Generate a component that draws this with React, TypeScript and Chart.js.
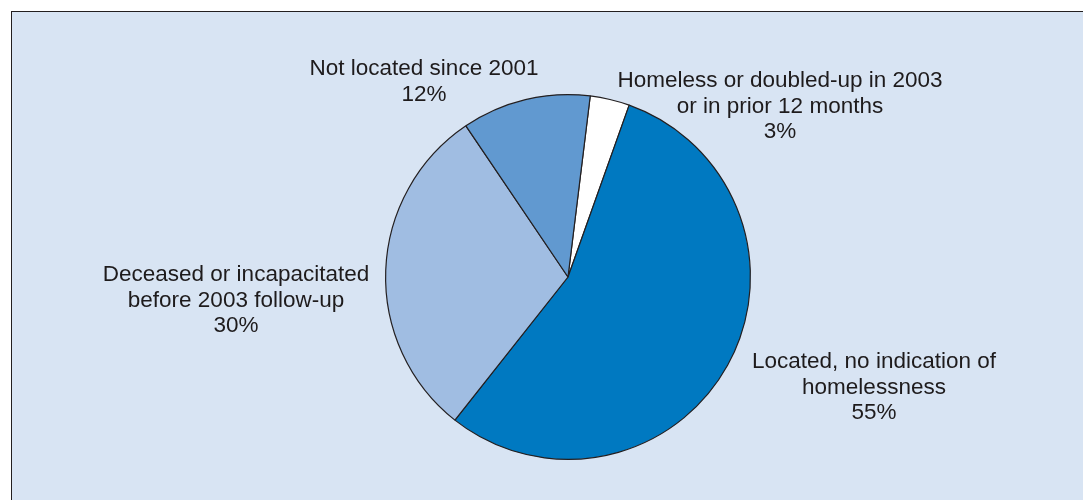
import React, { useEffect, useRef } from "react";
import { Chart, registerables } from "chart.js";

Chart.register(...registerables);

const categories = [
  "Homeless or doubled-up in 2003 or in prior 12 months",
  "Located, no indication of homelessness",
  "Deceased or incapacitated before 2003 follow-up",
  "Not located since 2001",
];
const values = [3.5, 55.2, 29.9, 11.4];
const percentLabels = ["3%", "55%", "30%", "12%"];
const labelLines = [
  ["Homeless or doubled-up in 2003", "or in prior 12 months"],
  ["Located, no indication of", "homelessness"],
  ["Deceased or incapacitated", "before 2003 follow-up"],
  ["Not located since 2001"],
];
const colors = ["#ffffff", "#0079c1", "#a0bde2", "#6199d0"];
// label anchor offsets from pie centre (x centre, first baseline)
const labelOffsets = [
  [212, -190],
  [306, 91],
  [-332, 4],
  [-144, -202],
];

const labelPlugin = {
  id: "sliceLabels",
  afterDraw(chart: any) {
    const meta = chart.getDatasetMeta(0);
    const arc = meta.data[0];
    if (!arc) return;
    const cx = arc.x;
    const cy = arc.y;
    const ctx = chart.ctx;
    ctx.save();
    ctx.font = '22.5px "Liberation Sans", Arial, sans-serif';
    ctx.fillStyle = "#1e1b1c";
    ctx.textAlign = "center";
    ctx.textBaseline = "alphabetic";
    const lh = 25.5;
    labelLines.forEach((lines, i) => {
      const [ox, oy] = labelOffsets[i];
      const all = [...lines, percentLabels[i]];
      all.forEach((t, j) => {
        ctx.fillText(t, cx + ox, cy + oy + j * lh);
      });
    });
    ctx.restore();
  },
};

export default function App() {
  const ref = useRef<HTMLCanvasElement>(null);
  useEffect(() => {
    if (!ref.current) return;
    const chart = new Chart(ref.current, {
      type: "pie",
      data: {
        labels: categories,
        datasets: [
          {
            data: values,
            backgroundColor: colors,
            borderColor: "#231f20",
            borderWidth: 1.2,
          },
        ],
      },
      options: {
        animation: false,
        responsive: false,
        rotation: 7,
        layout: { padding: { left: 385, right: 332, top: 94, bottom: 40 } },
        plugins: {
          legend: { display: false },
          tooltip: { enabled: false },
        },
      },
      plugins: [labelPlugin],
    });
    return () => chart.destroy();
  }, []);

  return (
    <div style={{ position: "absolute", left: 0, top: 0, width: 1083, height: 500, overflow: "hidden", background: "#ffffff" }}>
      <div
        style={{
          position: "absolute",
          left: 11,
          top: 11,
          width: 1100,
          height: 520,
          background: "#d8e4f3",
          borderTop: "1.5px solid #231f20",
          borderLeft: "1.5px solid #231f20",
        }}
      />
      <canvas ref={ref} width={1083} height={500} style={{ position: "absolute", left: 0, top: 0, width: 1083, height: 500 }} />
    </div>
  );
}
